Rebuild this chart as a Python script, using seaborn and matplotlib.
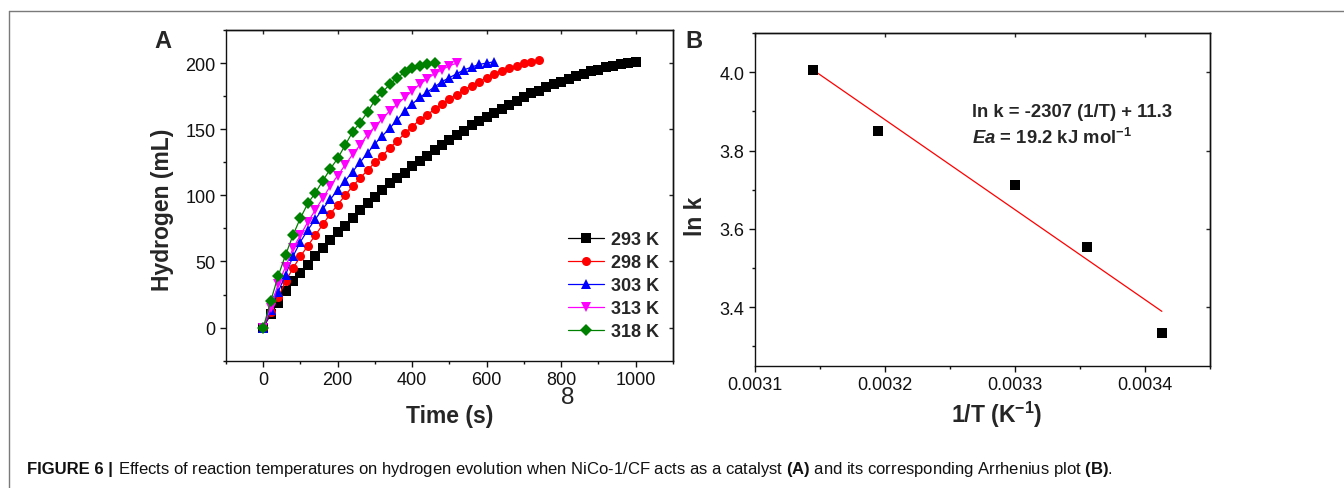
import numpy as np
import pandas as pd
import seaborn as sns
import matplotlib.pyplot as plt
from matplotlib.ticker import MultipleLocator
from matplotlib.lines import Line2D

# panel A: hydrogen volume vs time, one point every 20 s
t_step = 20
h293 = [0, 10, 19, 28, 35, 41, 47, 54, 60, 66, 72, 77, 83, 89, 94, 99, 104, 109, 113, 117,
        122, 126, 130, 134, 138, 142, 146, 149, 153, 156, 159, 162, 165, 168, 171, 174, 177,
        179, 182, 184, 186, 188, 190, 192, 194, 195, 197, 198, 199, 200, 201]
h298 = [0, 12, 23, 35, 45, 54, 62, 70, 78, 86, 93, 100, 107, 113, 119, 125, 130, 136, 141, 147,
        152, 157, 161, 165, 169, 173, 176, 180, 183, 186, 189, 192, 194, 196, 198, 200, 201, 202]
h303 = [0, 13, 27, 40, 54, 65, 74, 82, 90, 97, 104, 111, 118, 125, 132, 139, 145, 151, 157, 164,
        169, 174, 178, 182, 186, 189, 192, 195, 197, 199, 200, 201]
h313 = [0, 15, 33, 46, 60, 70, 80, 89, 98, 107, 115, 123, 131, 138, 146, 152, 158, 164, 169, 174,
        179, 184, 188, 192, 195, 198, 200]
h318 = [0, 20, 39, 55, 70, 83, 94, 102, 111, 120, 128, 138, 148, 155, 163, 172, 178, 184, 189, 193,
        196, 198, 199, 200]
labels = ["293 K", "298 K", "303 K", "313 K", "318 K"]
colors = ["#000000", "#ff0000", "#0000ff", "#ff00ff", "#008000"]
marks = ["s", "o", "^", "v", "D"]

# panel B: Arrhenius plot
temps = [318, 313, 303, 298, 293]
lnk = [4.005, 3.849, 3.713, 3.555, 3.333]

rows = []
for lab, vals in zip(labels, [h293, h298, h303, h313, h318]):
    for i, v in enumerate(vals):
        rows.append({"time": i * t_step, "hydrogen": v, "temp": lab})
df = pd.DataFrame(rows)

arr = pd.DataFrame({"invT": 1.0 / np.array(temps), "lnk": lnk})
slope, icpt = np.polyfit(arr["invT"], arr["lnk"], 1)
fit = pd.DataFrame({"invT": [arr["invT"].min(), arr["invT"].max()]})
fit["lnk"] = slope * fit["invT"] + icpt

sns.set_style("ticks")
plt.rcParams['font.family'] = ['Liberation Sans', 'DejaVu Sans']
plt.rcParams['mathtext.fontset'] = 'custom'
plt.rcParams['mathtext.rm'] = 'Liberation Sans:bold'
plt.rcParams['mathtext.bf'] = 'Liberation Sans:bold'
plt.rcParams['mathtext.it'] = 'Liberation Sans:italic:bold'
plt.rcParams['axes.linewidth'] = 1.0
plt.rcParams['axes.edgecolor'] = '#111111'

fig = plt.figure(figsize=(13.44, 4.89), dpi=100)
axA = fig.add_axes([0.16815, 0.2603, 0.33259, 0.67631])
axB = fig.add_axes([0.56176, 0.24949, 0.33854, 0.68098])

sns.lineplot(data=df, x="time", y="hydrogen", hue="temp", style="temp",
             palette=dict(zip(labels, colors)), markers=dict(zip(labels, marks)),
             dashes=False, linewidth=0.9, markersize=6.5, markeredgewidth=0, ax=axA)
axA.set_xlim(-100, 1100)
axA.set_ylim(-25, 225)
axA.xaxis.set_major_locator(MultipleLocator(200))
axA.xaxis.set_minor_locator(MultipleLocator(100))
axA.yaxis.set_major_locator(MultipleLocator(50))
axA.yaxis.set_minor_locator(MultipleLocator(25))
axA.set_xlabel("Time (s)", fontsize=16.5, fontweight="bold")
axA.set_ylabel("Hydrogen (mL)", fontsize=16.5, fontweight="bold")
axA.xaxis.set_label_coords(0.5, -0.167)
axA.xaxis.label.set_va("center")
axA.yaxis.set_label_coords(-0.141, 0.459)
axA.yaxis.label.set_va("center")

handles, labs = axA.get_legend_handles_labels()
axA.legend(handles, labs, loc="lower right", bbox_to_anchor=(0.968, 0.062),
           frameon=False, prop={"weight": "bold", "size": 13}, handlelength=2.0,
           handletextpad=0.35, labelspacing=0.33, borderpad=0, borderaxespad=0)

sns.scatterplot(data=arr, x="invT", y="lnk", marker="s", color="black", s=50,
                linewidth=0, ax=axB, zorder=3)
sns.lineplot(data=fit, x="invT", y="lnk", color="red", linewidth=0.9, ax=axB)
axB.set_xlim(0.0031, 0.00345)
axB.set_ylim(3.25, 4.1)
axB.xaxis.set_major_locator(MultipleLocator(0.0001))
axB.xaxis.set_minor_locator(MultipleLocator(0.00005))
axB.yaxis.set_major_locator(MultipleLocator(0.2))
axB.yaxis.set_minor_locator(MultipleLocator(0.1))
axB.set_xticks([0.0031, 0.0032, 0.0033, 0.0034])
axB.set_xticklabels(["0.0031", "0.0032", "0.0033", "0.0034"])
axB.set_xlabel("1/T (K$^{-1}$)", fontsize=16.5, fontweight="bold")
axB.set_ylabel("ln k", fontsize=16.5, fontweight="bold")
axB.xaxis.set_label_coords(0.53, -0.145)
axB.xaxis.label.set_va("center")
axB.yaxis.set_label_coords(-0.131, 0.453)
axB.yaxis.label.set_va("center")
axB.text(0.476, 0.763, "ln k = -2307 (1/T) + 11.3", transform=axB.transAxes,
         fontsize=13.3, fontweight="bold", va="center", ha="left")
axB.text(0.476, 0.687, "$Ea$ = 19.2 kJ mol$^{-1}$", transform=axB.transAxes,
         fontsize=13.3, fontweight="bold", va="center", ha="left")

for ax in (axA, axB):
    ax.tick_params(which="both", direction="out", labelsize=13, width=1, colors="#111111")
    ax.tick_params(which="major", length=4)
    ax.tick_params(which="minor", length=2.5)
    for sp in ax.spines.values():
        sp.set_visible(True)
    top = ax.secondary_xaxis("top")
    top.set_xticks(ax.get_xticks())
    top.tick_params(direction="in", length=3, labeltop=False, width=1)
    right = ax.secondary_yaxis("right")
    right.set_yticks(ax.get_yticks())
    right.tick_params(direction="in", length=3, labelright=False, width=1)

axB.set_xlim(0.0031, 0.00345)
axA.set_xlim(-100, 1100)

fig.text(163 / 1344, 1 - 41 / 489, "A", fontsize=17, fontweight="bold", ha="center", va="center")
fig.text(694 / 1344, 1 - 41 / 489, "B", fontsize=17, fontweight="bold", ha="center", va="center")
fig.text(568 / 1344, 1 - 398 / 489, "8", fontsize=17.5, ha="center", va="center")

fig.add_artist(Line2D([9 / 1344, 1], [1 - 12 / 489, 1 - 12 / 489], color="#7a7a7a", lw=1))
fig.add_artist(Line2D([9 / 1344, 9 / 1344], [0, 1 - 12 / 489], color="#7a7a7a", lw=1))

cap = fig.text(27 / 1344, 1 - 470 / 489, "FIGURE 6 |", fontsize=12, fontweight="bold",
               ha="left", va="center", color="#111111")
fig.canvas.draw()
bb = cap.get_window_extent()
fig.text((bb.x1 + 5) / 1344, 1 - 470 / 489,
         "Effects of reaction temperatures on hydrogen evolution when NiCo-1/CF acts as a catalyst "
         "$\\mathbf{(A)}$ and its corresponding Arrhenius plot $\\mathbf{(B)}$.",
         fontsize=12, ha="left", va="center", color="#111111")

fig.savefig("out.png", dpi=100)
